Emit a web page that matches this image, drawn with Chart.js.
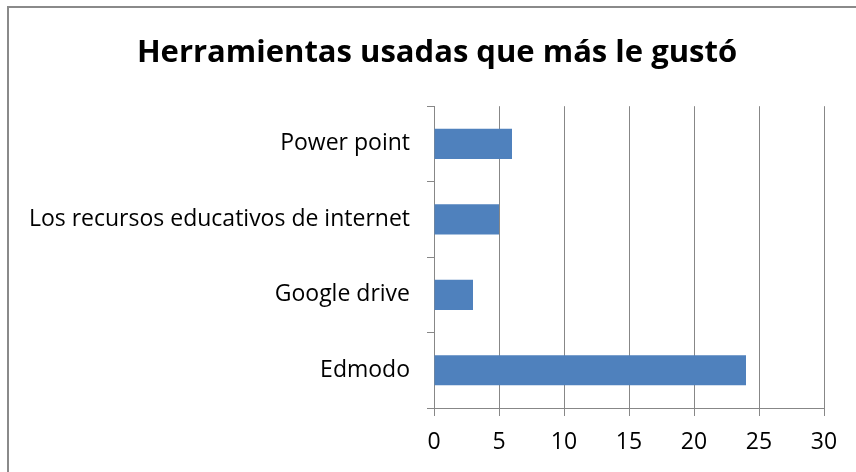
<!DOCTYPE html>
<html>
<head>
<meta charset="utf-8">
<script src="https://cdn.jsdelivr.net/npm/chart.js@4/dist/chart.umd.min.js"></script>
<style>
  html, body { margin: 0; padding: 0; background: #fff; }
  #wrap { width: 856px; height: 472px; position: relative; }
</style>
</head>
<body>
<div id="wrap"><canvas id="chart1"></canvas></div>
<script>
// Data
const categories = ['Power point', 'Los recursos educativos de internet', 'Google drive', 'Edmodo'];
const votes = [6, 5, 3, 24];
const xTicks = [0, 5, 10, 15, 20, 25, 30];

const gridGray = '#878787';

// draws the outer chart frame (left and top edge only are visible)
const framePlugin = {
  id: 'frame',
  afterLayout(chart) {
    // the title sits centred over the whole frame, not over the padded area
    if (chart.titleBlock) {
      chart.titleBlock.left += 25;
      chart.titleBlock.right += 25;
    }
  },
  beforeDraw(chart) {
    const c = chart.ctx;
    c.save();
    c.fillStyle = '#fff';
    c.fillRect(0, 0, chart.width, chart.height);
    c.strokeStyle = '#8a8a8a';
    c.lineWidth = 2;
    c.beginPath();
    c.moveTo(8, chart.height);
    c.lineTo(8, 7);
    c.lineTo(chart.width, 7);
    c.stroke();
    c.restore();
  }
};

const ctx = document.getElementById('chart1').getContext('2d');

new Chart(ctx, {
  type: 'bar',
  data: {
    labels: categories,
    datasets: [{
      label: 'Herramientas',
      data: votes,
      backgroundColor: '#4F81BD',
      barPercentage: 0.4,
      categoryPercentage: 1.0
    }]
  },
  plugins: [framePlugin],
  options: {
    indexAxis: 'y',
    responsive: true,
    maintainAspectRatio: false,
    animation: false,
    layout: { padding: { left: 0, right: 32, top: 0, bottom: 0 } },
    plugins: {
      legend: { display: false },
      tooltip: { enabled: false },
      title: {
        display: true,
        text: 'Herramientas usadas que más le gustó',
        color: '#000',
        font: { family: 'Open Sans', size: 31, weight: 'bold' },
        padding: { top: 35, bottom: 34 }
      }
    },
    scales: {
      x: {
        min: 0,
        max: 30,
        afterBuildTicks(scale) {
          scale.ticks = xTicks.map(v => ({ value: v }));
        },
        afterFit(scale) { scale.height = 64; },
        grid: { color: gridGray, lineWidth: 1, tickLength: 8 },
        border: { color: gridGray, width: 1 },
        ticks: {
          color: '#000',
          padding: 13,
          font: { family: 'Open Sans', size: 23 }
        }
      },
      y: {
        afterFit(scale) { scale.width = 434; },
        grid: { display: true, drawOnChartArea: false, color: gridGray, tickLength: 7, offset: true },
        border: { color: gridGray, width: 1 },
        ticks: {
          color: '#000',
          padding: 17,
          font: { family: 'Open Sans', size: 23 }
        }
      }
    }
  }
});
</script>
</body>
</html>
